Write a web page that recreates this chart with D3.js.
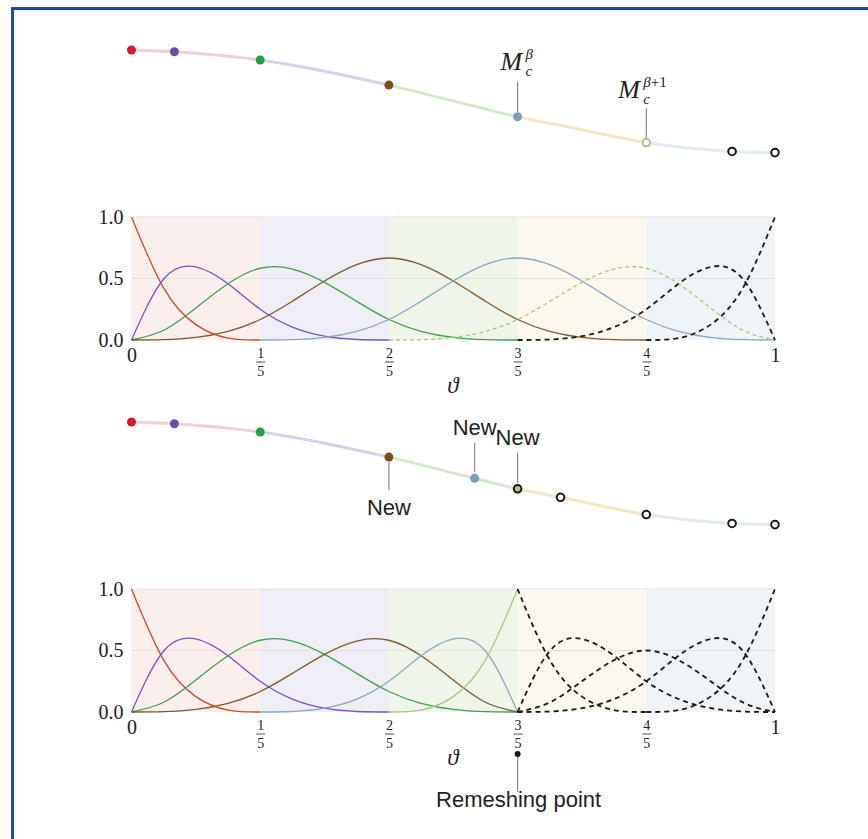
<!DOCTYPE html>
<html>
<head>
<meta charset="utf-8">
<script src="https://cdn.jsdelivr.net/npm/d3@7"></script>
<style>
  body { margin: 0; background: #fff; }
  svg text { fill: #222; }
  .serif { font-family: "Liberation Serif", "DejaVu Serif", serif; }
  .sans { font-family: "Liberation Sans", Arial, sans-serif; }
</style>
</head>
<body>
<svg id="chart" width="868" height="839"></svg>
<script>
var _ = null;

// knots / ticks
var knots = [0, 0.2, 0.4, 0.6, 0.8, 1];
var xTickLabels = ["0", "1/5", "2/5", "3/5", "4/5", "1"];
var yTicks = [0, 0.5, 1];
var yTickLabels = ["0.0", "0.5", "1.0"];

// sample grid for the basis functions
var theta = [0, .05, .1, .15, .2, .25, .3, .35, .4, .45, .5, .55, .6, .65, .7, .75, .8, .85, .9, .95, 1];

// basis functions, upper panel
var topN0 = [1, .4219, .125, .0156, 0, _, _, _, _, _, _, _, _, _, _, _, _, _, _, _, _];
var topN1 = [0, .4961, .5938, .457, .25, .1055, .0313, .0039, 0, _, _, _, _, _, _, _, _, _, _, _, _];
var topN2 = [0, .0794, .2604, .457, .5833, .5768, .4688, .3138, .1667, .0703, .0208, .0026, 0, _, _, _, _, _, _, _, _];
var topN3 = [0, .0026, .0208, .0703, .1667, .3151, .4792, .612, .6667, .612, .4792, .3151, .1667, .0703, .0208, .0026, 0, _, _, _, _];
var topN4 = [_, _, _, _, 0, .0026, .0208, .0703, .1667, .3151, .4792, .612, .6667, .612, .4792, .3151, .1667, .0703, .0208, .0026, 0];
var topN5 = [_, _, _, _, _, _, _, _, 0, .0026, .0208, .0703, .1667, .3138, .4688, .5768, .5833, .457, .2604, .0794, 0];
var topN6 = [_, _, _, _, _, _, _, _, _, _, _, _, 0, .0039, .0313, .1055, .25, .457, .5938, .4961, 0];
var topN7 = [_, _, _, _, _, _, _, _, _, _, _, _, _, _, _, _, 0, .0156, .125, .4219, 1];

// basis functions, lower panel (after remeshing at 3/5)
var botN0 = [1, .4219, .125, .0156, 0, _, _, _, _, _, _, _, _, _, _, _, _, _, _, _, _];
var botN1 = [0, .4961, .5938, .457, .25, .1055, .0313, .0039, 0, _, _, _, _, _, _, _, _, _, _, _, _];
var botN2 = [0, .0794, .2604, .457, .5833, .5768, .4688, .3138, .1667, .0703, .0208, .0026, 0, _, _, _, _, _, _, _, _];
var botN3 = [0, .0026, .0208, .0703, .1667, .3138, .4688, .5768, .5833, .457, .2604, .0794, 0, _, _, _, _, _, _, _, _];
var botN4 = [_, _, _, _, 0, .0039, .0313, .1055, .25, .457, .5938, .4961, 0, _, _, _, _, _, _, _, _];
var botN5 = [_, _, _, _, _, _, _, _, 0, .0156, .125, .4219, 1, _, _, _, _, _, _, _, _];
var botM0 = [_, _, _, _, _, _, _, _, _, _, _, _, 1, .4219, .125, .0156, 0, _, _, _, _];
var botM1 = [_, _, _, _, _, _, _, _, _, _, _, _, 0, .4961, .5938, .457, .25, .1055, .0313, .0039, 0];
var botM2 = [_, _, _, _, _, _, _, _, _, _, _, _, 0, .0781, .25, .4219, .5, .4219, .25, .0781, 0];
var botM3 = [_, _, _, _, _, _, _, _, _, _, _, _, 0, .0039, .0313, .1055, .25, .457, .5938, .4961, 0];
var botM4 = [_, _, _, _, _, _, _, _, _, _, _, _, _, _, _, _, 0, .0156, .125, .4219, 1];

// the curve itself (height)
var curveTheta  = [0, 0.0667, 0.2, 0.4, 0.5333, 0.6, 0.6667, 0.8, 0.9333, 1];
var curveHeight = [1, 0.983, 0.903, 0.658, 0.451, 0.349, 0.266, 0.098, 0.011, 0];

// points on the curve
var topPointTheta = [0, 0.0667, 0.2, 0.4, 0.6, 0.8, 0.9333, 1];
var botPointTheta = [0, 0.0667, 0.2, 0.4, 0.5333, 0.6, 0.6, 0.6667, 0.8, 0.9333, 1];

var red = "#d5452c", purple = "#7b52c1", green = "#3f9f4c", brown = "#7d5a2e",
    blue = "#86a7c3", lgreen = "#a6c77a", black = "#1a1a1a";

var bandFill   = ["#fbefee", "#efedf5", "#f0f5e9", "#fdf8ee", "#eff4f8"];
var bandStroke = ["#f5cfcf", "#d9d1ea", "#d4e9c8", "#f5e6c6", "#e1e9f1"];

var svg = d3.select("#chart");

// frame
svg.append("path")
   .attr("d", "M12.5,839V8.5H868")
   .attr("fill", "none")
   .attr("stroke", "#1f4d9e")
   .attr("stroke-width", 3);

var x = d3.scaleLinear().domain([0, 1]).range([131.5, 775]);

function drawPanel(dy, id, series, pts) {
  var y = d3.scaleLinear().domain([0, 1]).range([340 + dy, 217 + dy]);
  var cy = d3.scaleLinear().domain([0, 1]).range([152.6 + dy, 50 + dy]);
  var g = svg.append("g");

  // background bands
  for (var i = 0; i < knots.length - 1; i++) {
    g.append("rect")
     .attr("x", x(knots[i])).attr("y", y(1))
     .attr("width", x(knots[i + 1]) - x(knots[i]))
     .attr("height", y(0) - y(1))
     .attr("fill", bandFill[i]);
  }
  g.selectAll(".grid").data([0.5, 1]).enter().append("line")
   .attr("x1", x(0)).attr("x2", x(1))
   .attr("y1", function(d) { return y(d); })
   .attr("y2", function(d) { return y(d); })
   .attr("stroke", "#e6dfe2").attr("stroke-width", 1);

  // y axis
  var ya = g.append("g")
     .attr("transform", "translate(" + x(0) + ",0)")
     .call(d3.axisLeft(y).tickValues(yTicks).tickSize(0).tickPadding(8)
             .tickFormat(function(d, i) { return yTickLabels[i]; }));
  ya.select(".domain").remove();
  ya.selectAll("text").attr("class", "serif").style("font-size", "20px").attr("fill", "#222");

  // x axis with fraction labels
  var xa = g.append("g")
     .attr("transform", "translate(0," + y(0) + ")")
     .call(d3.axisBottom(x).tickValues(knots).tickSize(0).tickFormat(""));
  xa.select(".domain").remove();
  xa.selectAll(".tick").each(function(d, i) {
    var t = d3.select(this), lab = xTickLabels[i];
    if (lab.indexOf("/") < 0) {
      t.append("text").attr("class", "serif").attr("y", 22).attr("text-anchor", "middle")
       .style("font-size", "20px").attr("fill", "#222").text(lab);
    } else {
      var p = lab.split("/");
      t.append("text").attr("class", "serif").attr("y", 18).attr("text-anchor", "middle")
       .style("font-size", "14px").attr("fill", "#222").text(p[0]);
      t.append("line").attr("x1", -4.5).attr("x2", 4.5).attr("y1", 22).attr("y2", 22)
       .attr("stroke", "#222").attr("stroke-width", 0.8);
      t.append("text").attr("class", "serif").attr("y", 36).attr("text-anchor", "middle")
       .style("font-size", "14px").attr("fill", "#222").text(p[1]);
    }
  });
  g.append("text").attr("class", "serif")
   .attr("x", 453).attr("y", y(0) + 53).attr("text-anchor", "middle")
   .style("font-size", "23px").style("font-style", "italic").text("\u03d1");

  // basis functions
  var line = d3.line()
     .defined(function(d) { return d[1] !== null; })
     .x(function(d) { return x(d[0]); })
     .y(function(d) { return y(d[1]); })
     .curve(d3.curveNatural);
  series.forEach(function(s) {
    g.append("path")
     .datum(theta.map(function(t, k) { return [t, s.v[k]]; }))
     .attr("fill", "none")
     .attr("stroke", s.c)
     .attr("stroke-width", s.w)
     .attr("stroke-dasharray", s.dash || null)
     .attr("d", line);
  });

  // the curve, coloured by knot span
  var cline = d3.line()
     .x(function(d) { return x(d[0]); })
     .y(function(d) { return cy(d[1]); })
     .curve(d3.curveMonotoneX);
  var cdata = curveTheta.map(function(t, k) { return [t, curveHeight[k]]; });
  for (var j = 0; j < knots.length - 1; j++) {
    svg.append("clipPath").attr("id", id + j)
       .append("rect")
       .attr("x", x(knots[j])).attr("y", cy(1) - 20)
       .attr("width", x(knots[j + 1]) - x(knots[j]))
       .attr("height", cy(0) - cy(1) + 40);
    g.append("path").datum(cdata)
     .attr("fill", "none").attr("stroke", bandStroke[j]).attr("stroke-width", 3)
     .attr("clip-path", "url(#" + id + j + ")")
     .attr("d", cline);
  }

  pts.forEach(function(p) {
    var k = curveTheta.indexOf(p.t);
    g.append("circle")
     .attr("cx", x(p.t)).attr("cy", cy(curveHeight[k]))
     .attr("r", p.open ? 3.8 : 4.5)
     .attr("fill", p.fill)
     .attr("stroke", p.stroke || "none")
     .attr("stroke-width", p.open ? 2 : 0);
  });
  return { y: y, cy: cy, g: g };
}

var topSeries = [
  { v: topN0, c: red, w: 1.3 }, { v: topN1, c: purple, w: 1.3 },
  { v: topN2, c: green, w: 1.3 }, { v: topN3, c: brown, w: 1.3 },
  { v: topN4, c: blue, w: 1.3 }, { v: topN5, c: lgreen, w: 1.3, dash: "4,3" },
  { v: topN6, c: black, w: 1.8, dash: "5,4" }, { v: topN7, c: black, w: 1.8, dash: "5,4" }
];
var botSeries = [
  { v: botN0, c: red, w: 1.3 }, { v: botN1, c: purple, w: 1.3 },
  { v: botN2, c: green, w: 1.3 }, { v: botN3, c: brown, w: 1.3 },
  { v: botN4, c: blue, w: 1.3 }, { v: botN5, c: lgreen, w: 1.3 },
  { v: botM0, c: black, w: 1.8, dash: "5,4" }, { v: botM1, c: black, w: 1.8, dash: "5,4" },
  { v: botM2, c: black, w: 1.8, dash: "5,4" }, { v: botM3, c: black, w: 1.8, dash: "5,4" },
  { v: botM4, c: black, w: 1.8, dash: "5,4" }
];

var topFill = ["#d41a2c", "#6b4fae", "#22a04a", "#7a4f20", "#7d9dbb", "#fff", "#fff", "#fff"];
var topStroke = [_, _, _, _, _, "#a8c48a", black, black];
var botFill = ["#d41a2c", "#6b4fae", "#22a04a", "#7a4f20", "#7d9dbb", "#a8c48a", "none", "#fff", "#fff", "#fff", "#fff"];
var botStroke = [_, _, _, _, _, _, black, black, black, black, black];

var top = drawPanel(0, "ct", topSeries, topPointTheta.map(function(t, i) {
  return { t: t, fill: topFill[i], stroke: topStroke[i], open: topStroke[i] !== null };
}));
var bot = drawPanel(372, "cb", botSeries, botPointTheta.map(function(t, i) {
  return { t: t, fill: botFill[i], stroke: botStroke[i], open: botStroke[i] !== null };
}));

// annotations, upper curve
function leader(x0, y1, y2) {
  svg.append("line").attr("x1", x0).attr("x2", x0).attr("y1", y1).attr("y2", y2)
     .attr("stroke", "#8a8a8a").attr("stroke-width", 1.2);
}
// M with subscript c and superscript beta: three separate texts
function mLabel(xm, base, sup) {
  svg.append("text").attr("class", "serif").style("font-style", "italic")
     .attr("x", xm).attr("y", base).style("font-size", "26px").text("M");
  svg.append("text").attr("class", "serif").style("font-style", "italic")
     .attr("x", xm + 25).attr("y", base + 6).style("font-size", "15px").text("c");
  var s = svg.append("text").attr("class", "serif").style("font-style", "italic")
     .attr("x", xm + 25).attr("y", base - 11).style("font-size", "15px");
  s.append("tspan").text("\u03b2");
  if (sup) s.append("tspan").style("font-style", "normal").text(sup);
}
leader(x(0.6), 82, 112);
mLabel(x(0.6) - 17, 70, "");
leader(x(0.8), 108, 138);
mLabel(x(0.8) - 28, 98, "+1");

// annotations, lower curve
function newLabel(xc, base) {
  svg.append("text").attr("class", "sans").attr("x", xc).attr("y", base)
     .attr("text-anchor", "middle").style("font-size", "22px").attr("fill", "#2a2a2a").text("New");
}
leader(x(0.4), 462, 490);
newLabel(x(0.4), 515);
leader(x(0.5333), 443, 472);
newLabel(x(0.5333), 435);
leader(x(0.6), 453, 483);
newLabel(x(0.6), 445);

svg.append("circle").attr("cx", x(0.6)).attr("cy", 754).attr("r", 3).attr("fill", black);
leader(x(0.6), 757, 792);
svg.append("text").attr("class", "sans").attr("x", x(0.6) + 1).attr("y", 807)
   .attr("text-anchor", "middle").style("font-size", "22px").attr("fill", "#1a1a1a")
   .text("Remeshing point");
</script>
</body>
</html>
